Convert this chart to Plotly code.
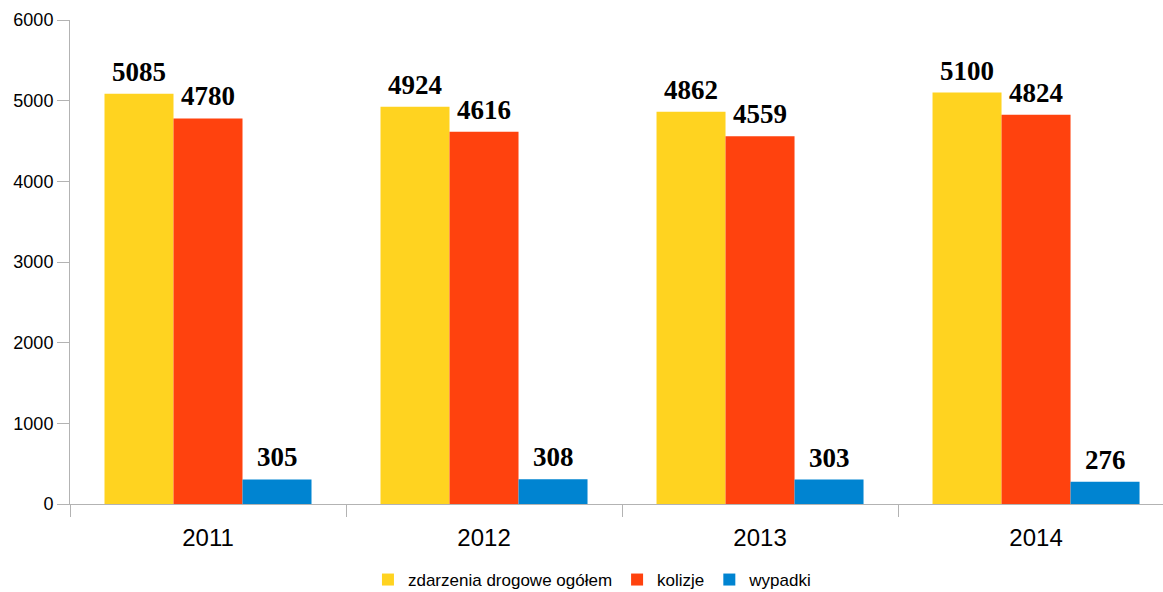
import plotly.graph_objects as go

years = ["2011", "2012", "2013", "2014"]
series_names = ["zdarzenia drogowe ogółem", "kolizje", "wypadki"]
ogolem = [5085, 4924, 4862, 5100]
kolizje = [4780, 4616, 4559, 4824]
wypadki = [305, 308, 303, 276]
colors = ["#FFD320", "#FF420E", "#0084D1"]
y_ticks = [0, 1000, 2000, 3000, 4000, 5000, 6000]

W, H = 1163, 592
ml, mr, mt, mb = 70, 0, 20, 88
x_range = [-0.5, 3.46]
bargap = 0.25

fig = go.Figure()
all_series = [ogolem, kolizje, wypadki]
for name, vals, col in zip(series_names, all_series, colors):
    fig.add_trace(go.Bar(x=years, y=vals, name=name, marker_color=col,
                         marker_line_width=0))

# value labels through the axis scales (category index on x)
plot_w = W - ml - mr
px_per_unit = plot_w / (x_range[1] - x_range[0])
bar_w_px = (1 - bargap) / len(all_series) * px_per_unit
for i, vals in enumerate(all_series):
    off = (i - (len(all_series) - 1) / 2) * bar_w_px
    for j, v in enumerate(vals):
        fig.add_annotation(x=j, y=v, xref="x", yref="y", text=f"<b>{v}</b>",
                           showarrow=False, xshift=off, yshift=5, yanchor="bottom",
                           font=dict(family="Liberation Serif", size=27, color="#000000"))

fig.update_layout(
    width=W, height=H,
    margin=dict(l=ml, r=mr, t=mt, b=mb, autoexpand=False),
    plot_bgcolor="white", paper_bgcolor="white",
    barmode="group", bargap=bargap, bargroupgap=0,
    font=dict(family="Liberation Sans", color="#000000"),
    showlegend=True,
    legend=dict(orientation="h", x=0.478, xanchor="center", y=-0.157, yanchor="middle",
                font=dict(family="Liberation Sans", size=17, color="#000000"),
                itemwidth=30, tracegroupgap=0),
    xaxis=dict(type="category", range=x_range, showgrid=False, automargin=False,
               showline=True, linecolor="#b3b3b3", linewidth=1,
               ticks="outside", tickson="boundaries", ticklen=12, tickcolor="#b3b3b3",
               ticklabelstandoff=12,
               tickfont=dict(family="Liberation Sans", size=24, color="#000000")),
    yaxis=dict(range=[0, 6000], tickvals=y_ticks, showgrid=False, zeroline=False,
               automargin=False,
               showline=True, linecolor="#b3b3b3", linewidth=1,
               ticks="outside", ticklen=12, tickcolor="#b3b3b3",
               tickfont=dict(family="Liberation Sans", size=18, color="#000000")),
)

fig.write_html("out.html", config={"displayModeBar": False},
               post_script="document.body.style.margin='0';document.body.style.overflow='hidden';")
